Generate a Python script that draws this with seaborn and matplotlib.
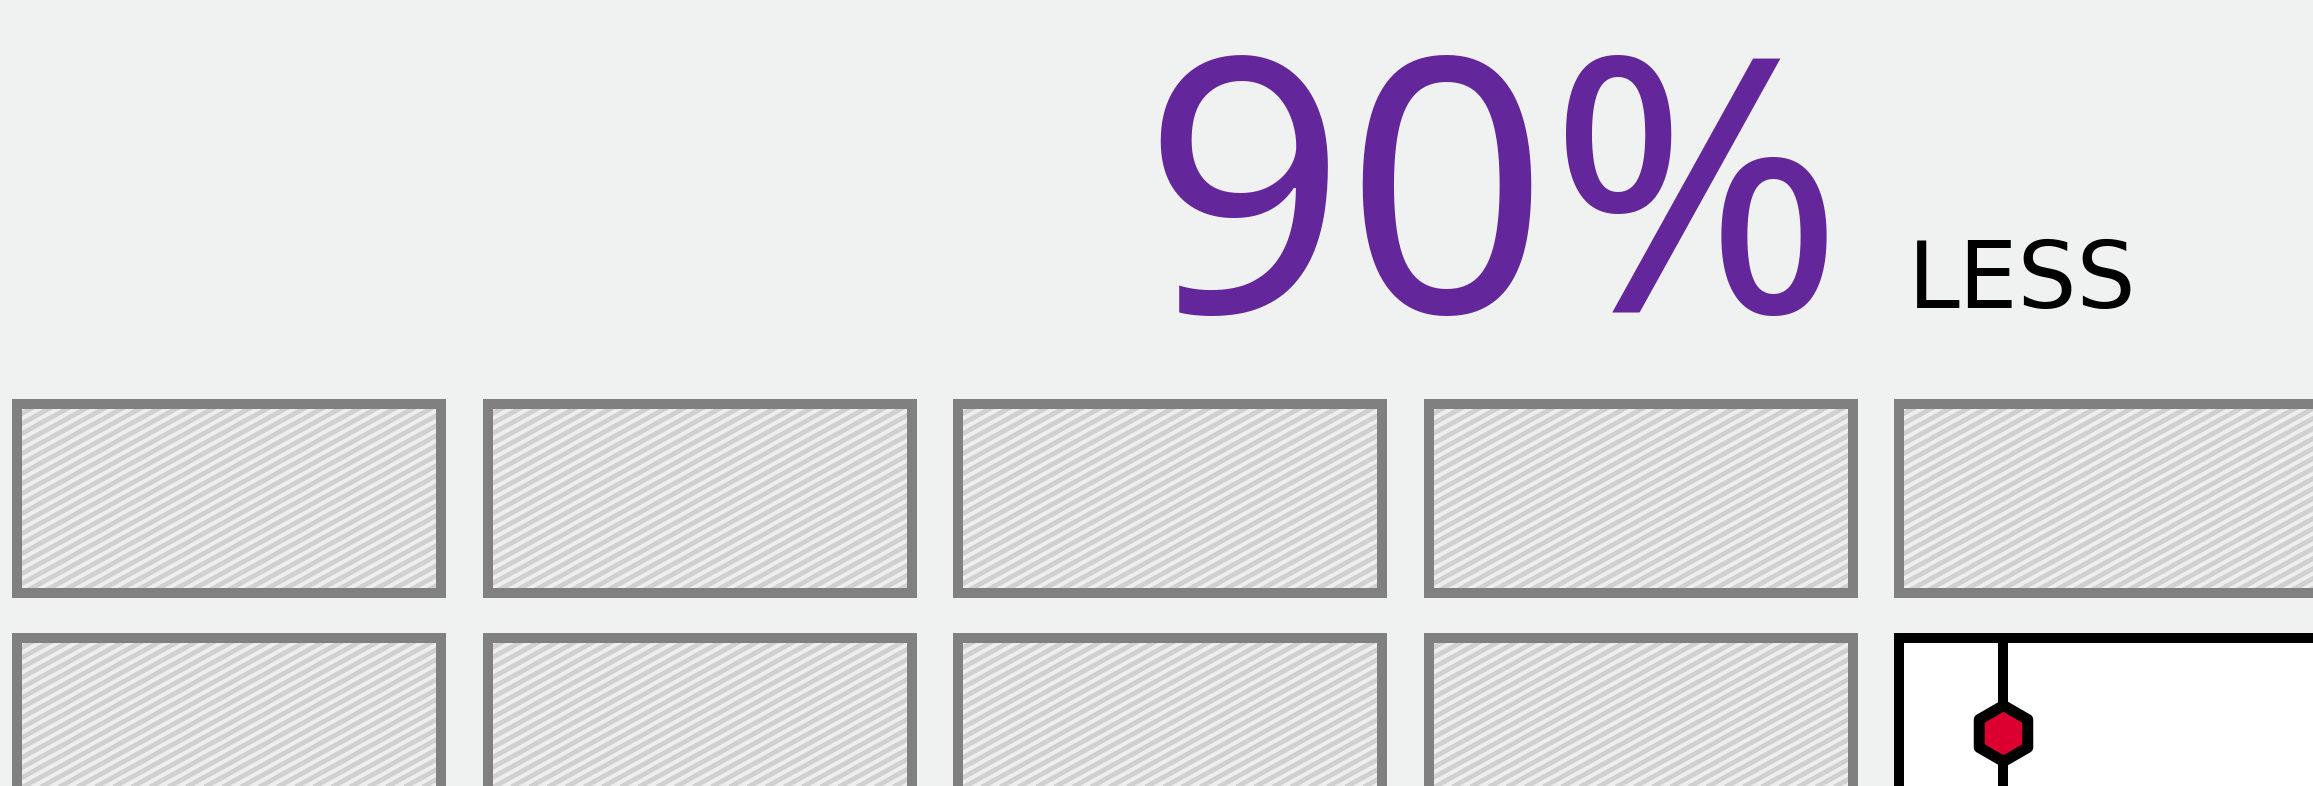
import numpy as np
import pandas as pd
import matplotlib
import matplotlib.pyplot as plt
import seaborn as sns
from matplotlib.patches import Rectangle
from matplotlib.collections import LineCollection

matplotlib.use('Agg')

# data: one cell per unit, 9 of 10 saved -> "90% less"
cell_col = [0, 1, 2, 3, 4, 0, 1, 2, 3, 4]
cell_row = [0, 0, 0, 0, 0, 1, 1, 1, 1, 1]
cell_state = ['saved', 'saved', 'saved', 'saved', 'saved',
              'saved', 'saved', 'saved', 'saved', 'used']
headline = '90%'
headline_unit = 'LESS'

cells = pd.DataFrame({'col': cell_col, 'row': cell_row, 'state': cell_state})

# layout (pixels)
W, H = 2313, 786
x_start, y_start = 12, 399
pitch_x, pitch_y = 470.5, 234
cell_w, cell_h = 434, 199
lw_px = 10
bg = '#f0f2f1'
purple = '#63269b'
red = '#dc0030'

sns.set_theme(style='white', rc={'figure.facecolor': bg, 'axes.facecolor': bg})
plt.rcParams['font.family'] = ['Noto Sans', 'DejaVu Sans']

fig = plt.figure(figsize=(W / 100, H / 100), dpi=100)
ax = fig.add_axes([0, 0, 1, 1])

pt = 72 / 100  # px -> points

cells['x0'] = x_start + cells['col'] * pitch_x
cells['y0'] = y_start + cells['row'] * pitch_y

# hatched cells: gray frame + diagonal stripes
slope = 0.55
period = 10
for _, c in cells[cells['state'] == 'saved'].iterrows():
    x0, y0 = c['x0'], c['y0']
    ax.add_patch(Rectangle((x0, y0), cell_w, cell_h, facecolor='#808080',
                           edgecolor='none', zorder=1))
    inner = Rectangle((x0 + lw_px, y0 + lw_px), cell_w - 2 * lw_px, cell_h - 2 * lw_px,
                      facecolor='#eeeeee', edgecolor='none', zorder=2)
    ax.add_patch(inner)
    segs = []
    for yy in np.arange(y0, y0 + cell_h + slope * cell_w + period, period):
        segs.append([(x0, yy), (x0 + cell_w, yy - slope * cell_w)])
    lc = LineCollection(segs, colors='#d0d0d0', linewidths=4.8 * pt, zorder=3)
    ax.add_collection(lc)
    lc.set_clip_path(inner)

# highlighted cell: black frame, white inside, line with hexagon
used = cells[cells['state'] == 'used']
for _, c in used.iterrows():
    x0, y0 = c['x0'], c['y0']
    ax.add_patch(Rectangle((x0, y0), cell_w, cell_h, facecolor='black',
                           edgecolor='none', zorder=1))
    ax.add_patch(Rectangle((x0 + lw_px, y0 + lw_px), cell_w - 2 * lw_px, cell_h - 2 * lw_px,
                           facecolor='white', edgecolor='none', zorder=2))
    mx = x0 + cell_w * 0.25
    ax.plot([mx, mx], [y0 + lw_px / 2, y0 + cell_h], color='black',
            linewidth=lw_px * pt, solid_capstyle='butt', zorder=4)

marker_df = pd.DataFrame({'x': used['x0'] + cell_w * 0.25,
                          'y': used['y0'] + cell_h * 0.5})
sns.scatterplot(data=marker_df, x='x', y='y', ax=ax, marker='h', s=(56 * pt) ** 2,
                color=red, edgecolor='black', linewidth=11 * pt, zorder=5, legend=False)
ax.set_xlim(0, W)
ax.set_ylim(H, 0)
ax.axis('off')

# headline
ax.text(1142, 312, headline, color=purple, fontsize=256, ha='left', va='baseline')
ax.text(1908, 308, headline_unit, color='black', fontsize=67, ha='left', va='baseline',
        family=['DejaVu Sans'])

fig.savefig('out.png', dpi=100, facecolor=bg)
